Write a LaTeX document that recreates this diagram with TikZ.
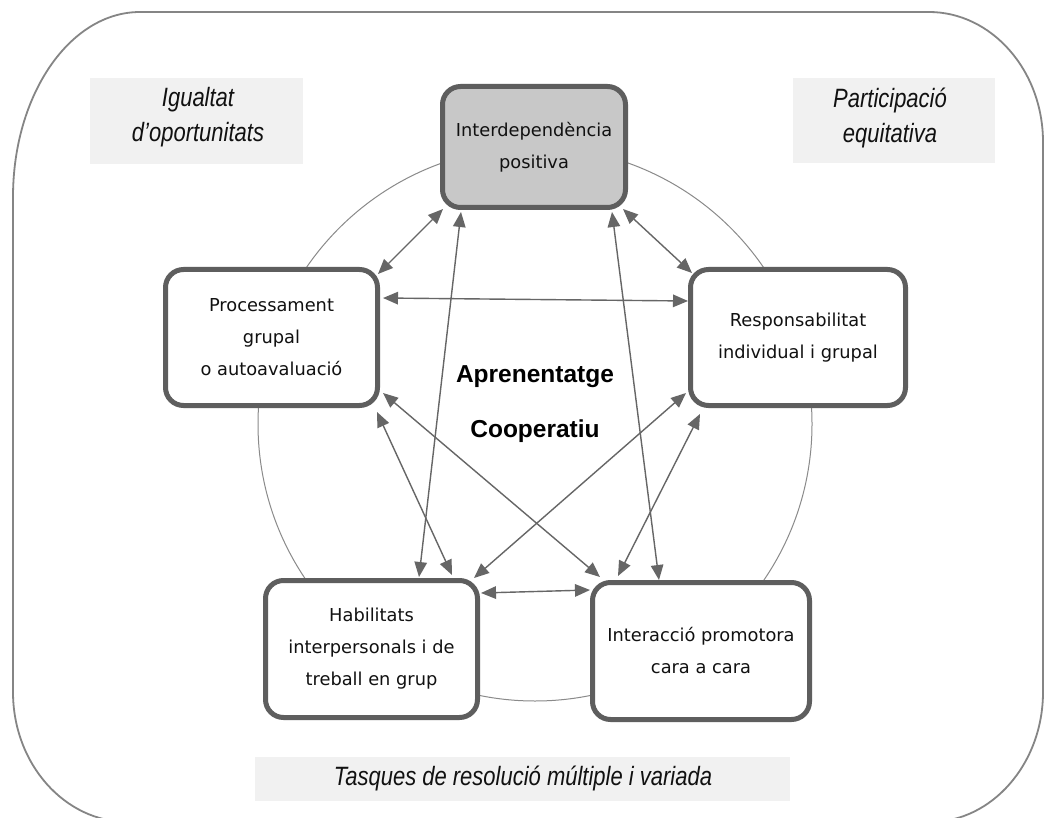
\documentclass[tikz,border=0pt]{standalone}
\usepackage{fontspec}
\usetikzlibrary{arrows.meta,calc}
\newfontfamily\boxfont{DejaVu Sans}
\newfontfamily\labelfont[FakeStretch=0.83]{Liberation Sans}
\newfontfamily\titlefont{Liberation Sans}
\definecolor{framegray}{HTML}{858585}
\definecolor{circlegray}{HTML}{8A8A8A}
\definecolor{boxedge}{HTML}{5E5E5E}
\definecolor{topfill}{HTML}{C8C8C8}
\definecolor{labelfill}{HTML}{F1F1F1}
\definecolor{linkgray}{HTML}{666666}
\definecolor{ink}{HTML}{111111}
\tikzset{
  pbox/.style={rectangle, rounded corners=18pt, draw=boxedge, line width=5pt,
    fill=white, align=center, inner sep=0pt, text=ink,
    font=\boxfont\fontsize{17.8pt}{32pt}\selectfont},
  tag/.style={align=center, inner sep=0pt, text=ink,
    font=\labelfont\itshape\fontsize{26.5pt}{35pt}\selectfont},
  link/.style={draw=linkgray, line width=1.4pt,
    {Triangle[length=15pt,width=12.5pt]}-{Triangle[length=15pt,width=12.5pt]}}
}
\begin{document}
\begin{tikzpicture}[x=1pt,y=-1pt]
\useasboundingbox (0,0) rectangle (1049,818);
\fill[white] (0,0) rectangle (1049,818);

% outer frame with wide rounded corners
\draw[framegray, line width=1.8pt]
  (13,197) .. controls (13,94.8) and (69.9,12) .. (140,12)
  -- (929,12) .. controls (991.4,12) and (1043,70.2) .. (1043,142)
  -- (1043,692) .. controls (1043,763.8) and (991.9,822) .. (930,822)
  -- (128,822) .. controls (64.5,822) and (13,763.8) .. (13,692) -- cycle;

% shaded label panels
\fill[labelfill] (90,78) rectangle (303,164);
\fill[labelfill] (793,78) rectangle (995,163);
\fill[labelfill] (255,757) rectangle (790,801);
\node[tag] (eq) at (198,117.5) {Igualtat\\d’oportunitats};
\node[tag] (pa) at (890,117.5) {Participació\\equitativa};
\node[tag] (ta) at (523,778) {Tasques de resolució múltiple i variada};

% ring behind the five elements
\draw[circlegray, line width=1pt] (535,424) circle[radius=277];

% the five elements
\node[pbox, fill=topfill, minimum width=183pt, minimum height=121pt] (T) at (534,147)
  {Interdependència\\positiva};
\node[pbox, minimum width=212pt, minimum height=136pt] (L) at (271.5,337.5)
  {Processament\\grupal\\o autoavaluació};
\node[pbox, minimum width=215pt, minimum height=136pt] (R) at (798,337.5)
  {Responsabilitat\\individual i grupal};
\node[pbox, minimum width=212pt, minimum height=137pt] (BL) at (371.5,649)
  {Habilitats\\interpersonals i de\\treball en grup};
\node[pbox, minimum width=217pt, minimum height=137pt] (BR) at (701,651)
  {Interacció promotora\\cara a cara};

% centre title
\node[align=center, text=black, inner sep=0pt,
  font=\titlefont\bfseries\fontsize{24.5pt}{55pt}\selectfont] (C) at (535,404.5)
  {Aprenentatge\\Cooperatiu};

% links between every pair of elements
\draw[link] ($(T.south west)+(3,-1)$) -- ($(L.north east)+(-2,7)$);
\draw[link] ($(T.south east)+(-5,-1)$) -- ($(R.north west)+(4,6)$);
\draw[link] ($(L.north east)+(3,31)$) -- ($(R.north west)+(0,34)$);
\draw[link] ($(T.south west)+(21,2)$) -- ($(BL.north east)+(-61,-1)$);
\draw[link] ($(T.south east)+(-16,2)$) -- ($(BR.north west)+(69,0)$);
\draw[link] ($(L.south east)+(3,-15)$) -- ($(BR.north west)+(10,-3)$);
\draw[link] ($(L.south east)+(-3,4)$) -- ($(BL.north east)+(-28,-3)$);
\draw[link] ($(R.south west)+(-2,-15)$) -- ($(BL.north east)+(-6,0)$);
\draw[link] ($(R.south west)+(12,6)$) -- ($(BR.north west)+(28,-4)$);
\draw[link] ($(BL.north east)+(1,15)$) -- ($(BR.north west)+(0,10)$);
\end{tikzpicture}
\end{document}
